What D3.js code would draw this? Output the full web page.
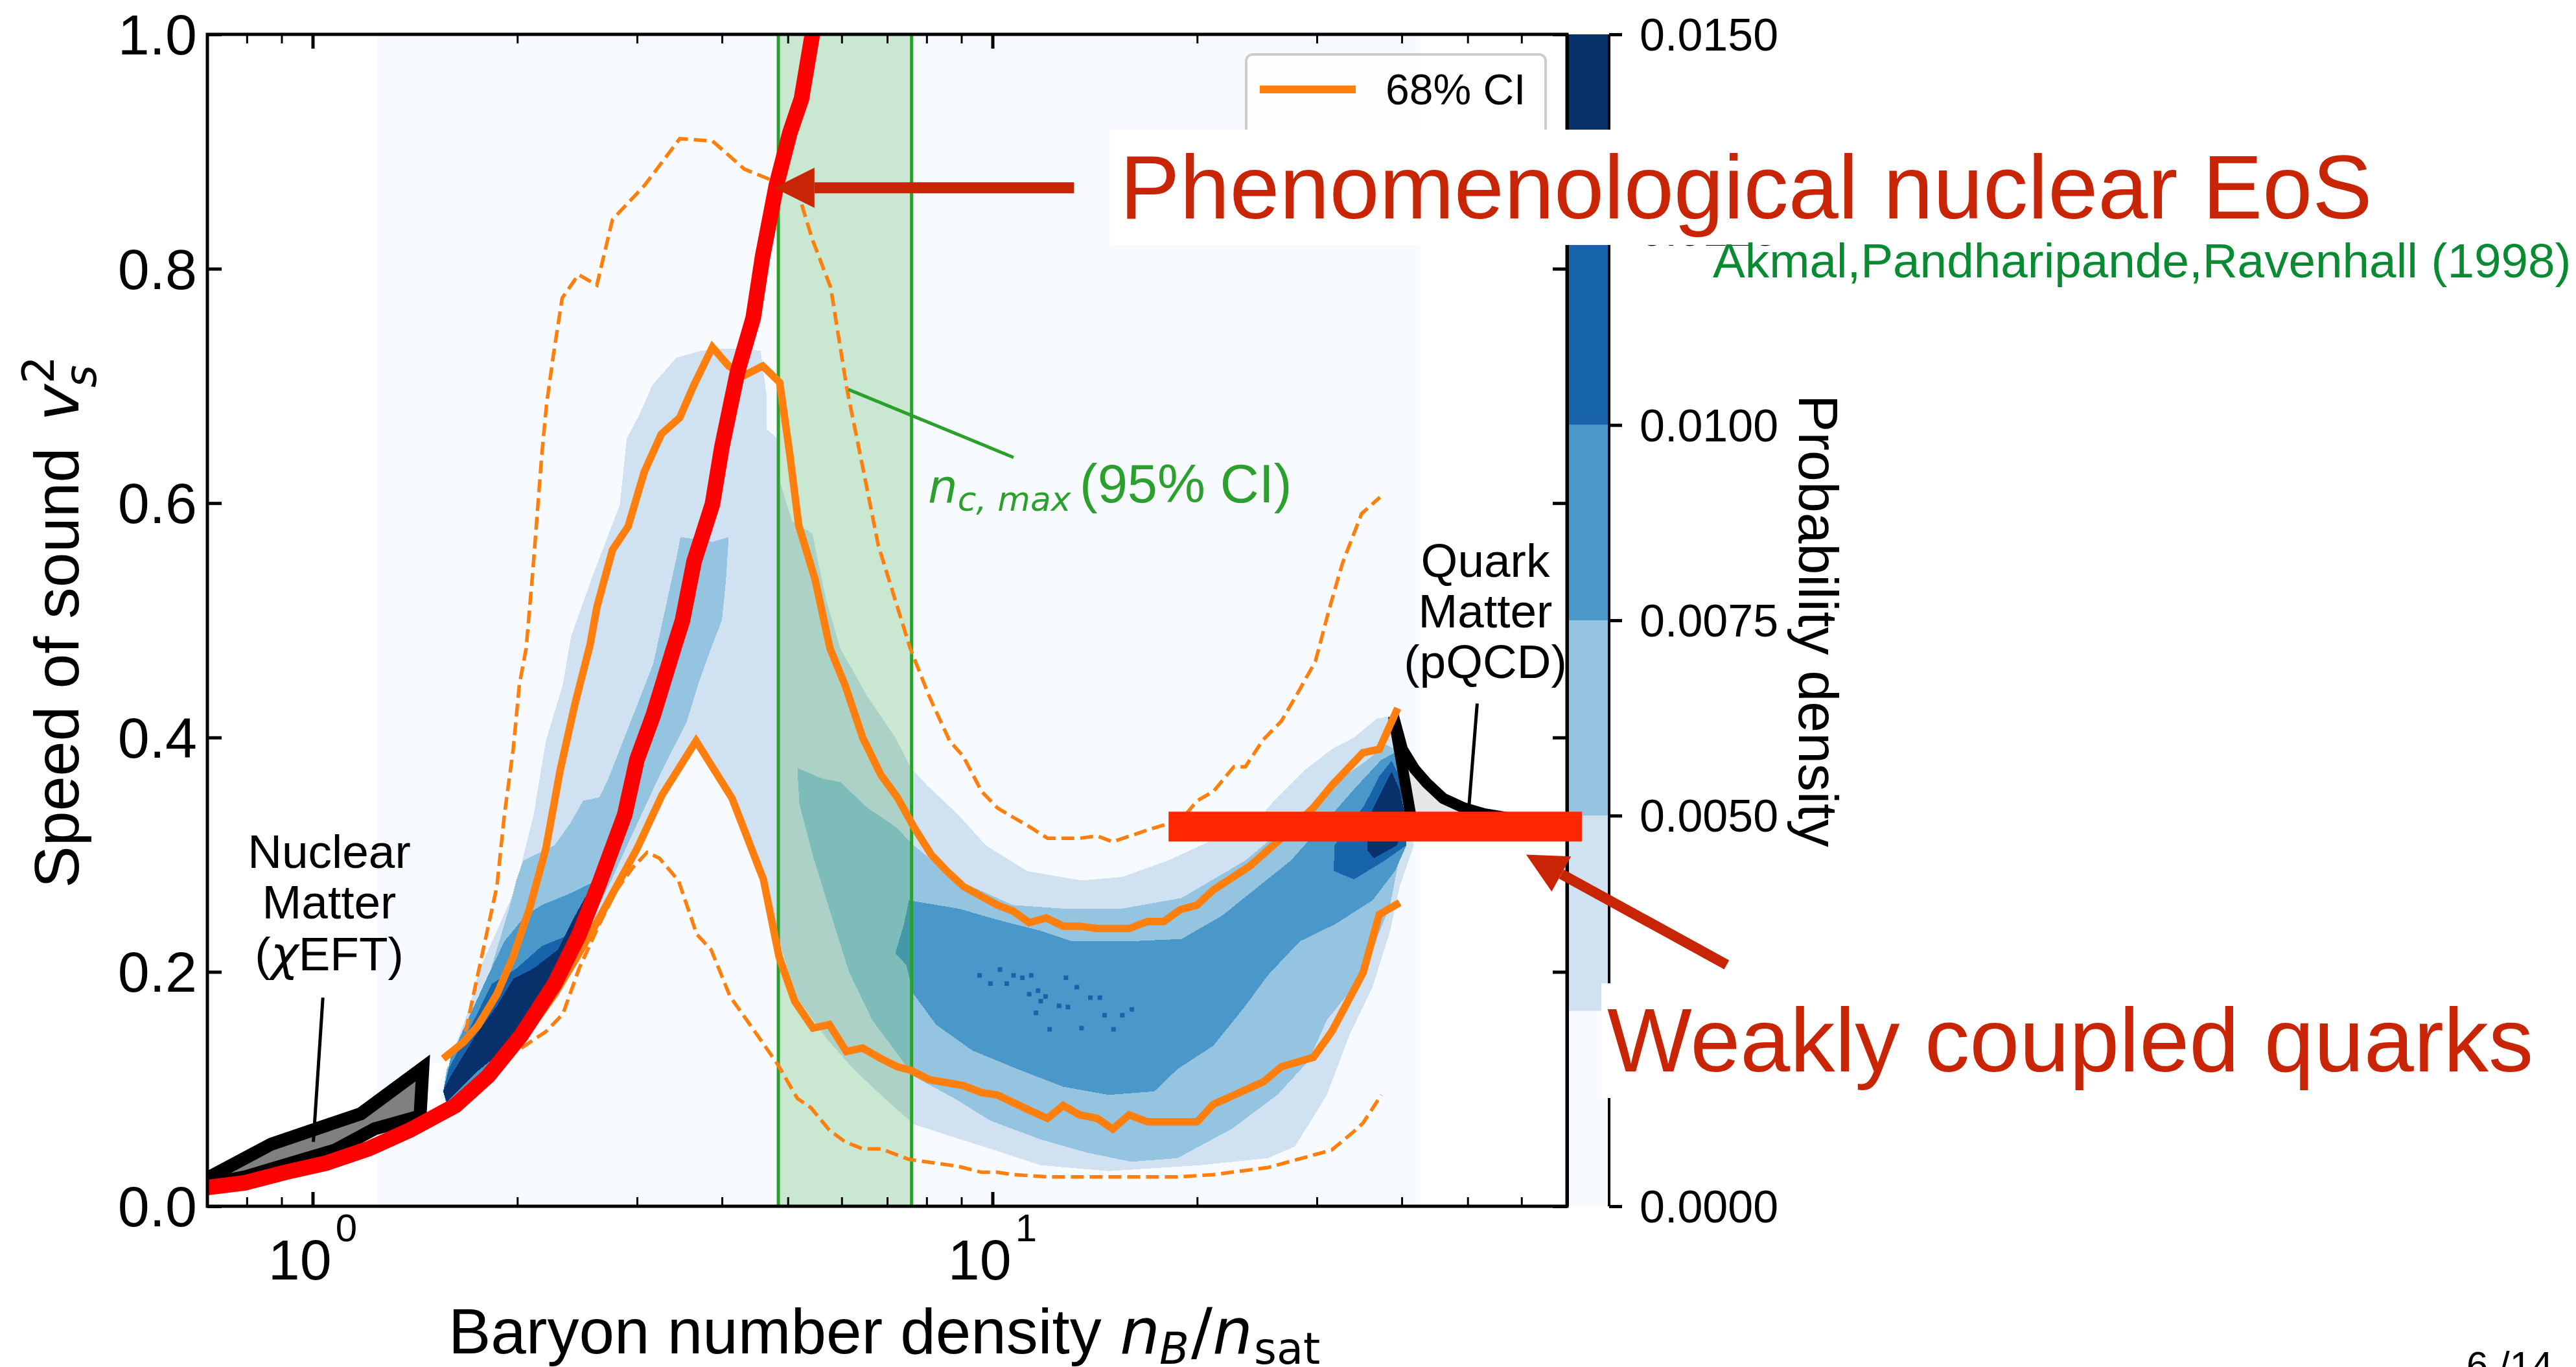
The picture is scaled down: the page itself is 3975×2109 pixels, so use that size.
<!DOCTYPE html>
<html><head><meta charset="utf-8">
<script src="https://cdn.jsdelivr.net/npm/d3@7"></script>
<style>html,body{margin:0;padding:0;background:#fff;overflow:hidden}svg{display:block}text{font-family:"Liberation Sans",Arial,sans-serif}</style>
</head><body><svg id="c" width="3975" height="2109"></svg>
<script>
// all curves: [log10(nB/nsat), v_s^2]
const upper68=[[.192,.126],[.222,.140],[.243,.154],[.271,.181],[.295,.213],[.319,.254],[.343,.305],[.364,.372],[.386,.429],[.408,.479],[.418,.511],[.441,.560],[.464,.580],[.488,.627],[.513,.659],[.540,.673],[.561,.701],[.588,.733],[.612,.717],[.635,.709],[.662,.717],[.687,.703],[.702,.641],[.715,.581],[.739,.535],[.761,.476],[.783,.445],[.809,.400],[.836,.368],[.860,.349],[.884,.324],[.910,.300],[.933,.286],[.957,.273],[1.007,.257],[1.030,.252],[1.054,.242],[1.079,.246],[1.104,.239],[1.128,.239],[1.154,.237],[1.201,.237],[1.228,.243],[1.252,.243],[1.276,.253],[1.301,.257],[1.325,.270],[1.378,.290],[1.425,.314],[1.472,.340],[1.499,.359],[1.545,.387],[1.569,.390],[1.596,.425]];
const lower68=[[.203,.087],[.264,.111],[.313,.146],[.356,.181],[.386,.210],[.417,.241],[.447,.273],[.477,.305],[.514,.351],[.564,.397],[.617,.348],[.663,.279],[.686,.213],[.709,.175],[.736,.152],[.760,.155],[.785,.132],[.809,.135],[.836,.126],[.860,.119],[.880,.116],[.907,.108],[.957,.103],[.984,.097],[1.007,.095],[1.054,.082],[1.081,.075],[1.104,.086],[1.128,.078],[1.154,.075],[1.177,.066],[1.201,.078],[1.228,.072],[1.301,.072],[1.325,.087],[1.398,.106],[1.425,.119],[1.472,.127],[1.499,.149],[1.545,.199],[1.569,.249],[1.599,.259]];
const upper95=[[.225,.149],[.240,.190],[.271,.273],[.282,.334],[.295,.390],[.304,.445],[.314,.476],[.324,.543],[.337,.641],[.344,.684],[.354,.726],[.367,.775],[.391,.795],[.418,.786],[.441,.842],[.488,.871],[.540,.911],[.588,.909],[.635,.885],[.682,.874],[.715,.863],[.735,.825],[.762,.784],[.786,.697],[.809,.631],[.832,.564],[.879,.476],[.907,.435],[.937,.397],[.957,.384],[.984,.354],[1.007,.340],[1.030,.332],[1.054,.324],[1.081,.314],[1.128,.314],[1.154,.316],[1.177,.311],[1.228,.321],[1.278,.330],[1.301,.346],[1.325,.354],[1.355,.375],[1.372,.375],[1.398,.398],[1.425,.414],[1.452,.441],[1.475,.465],[1.496,.511],[1.515,.549],[1.543,.591],[1.570,.605]];
const lower95=[[.307,.135],[.343,.149],[.368,.164],[.392,.203],[.422,.241],[.447,.270],[.471,.289],[.492,.302],[.510,.297],[.538,.278],[.565,.232],[.586,.219],[.614,.179],[.665,.137],[.684,.121],[.713,.092],[.733,.084],[.760,.065],[.783,.055],[.809,.049],[.836,.049],[.877,.040],[.950,.034],[.984,.029],[1.007,.029],[1.030,.027],[1.084,.025],[1.272,.025],[1.325,.027],[1.405,.033],[1.499,.048],[1.532,.064],[1.545,.071],[1.572,.095]];
const eosAPR=[[-.155,.016],[-.100,.020],[-.040,.029],[.021,.037],[.082,.049],[.143,.065],[.210,.086],[.258,.111],[.307,.146],[.356,.190],[.392,.232],[.422,.276],[.459,.334],[.477,.381],[.501,.419],[.531,.476],[.544,.500],[.561,.550],[.588,.599],[.602,.648],[.625,.712],[.648,.758],[.662,.811],[.682,.871],[.702,.916],[.719,.945],[.735,1.0],[.739,1.018]];
const nuclearMatter=[[-.155,.024],[-.061,.053],[.071,.079],[.162,.118],[.158,.077],[.091,.066],[.033,.048],[-.100,.025],[-.155,.019]];
const quarkMatter=[[1.590,.418],[1.603,.390],[1.621,.373],[1.639,.361],[1.663,.348],[1.693,.340],[1.723,.335],[1.765,.331],[1.619,.321]];
const gapPatch=[[.177,.122],[.197,.124],[.183,.100],[.192,.087],[.162,.076]];
const weakQuarks=[[1.259,.324],[1.867,.324]];
const nCmaxLogN=[.685,.881];
const histLogN=[.095,1.629];
const band1=[[[.203,.127],[.228,.165],[.246,.203],[.271,.235],[.295,.267],[.307,.292],[.325,.334],[.343,.397],[.368,.445],[.380,.486],[.410,.535],[.452,.599],[.462,.655],[.481,.676],[.500,.701],[.535,.724],[.571,.730],[.602,.732],[.628,.732],[.659,.730],[.668,.691],[.668,.663],[.684,.655],[.688,.617],[.705,.585],[.735,.574],[.755,.518],[.776,.476],[.816,.435],[.857,.400],[.880,.374],[.904,.359],[.950,.334],[.990,.308],[1.051,.286],[1.131,.278],[1.191,.281],[1.258,.295],[1.318,.311],[1.385,.327],[1.419,.349],[1.459,.372],[1.499,.390],[1.532,.400],[1.565,.416],[1.592,.419],[1.599,.356],[1.620,.308],[1.599,.273],[1.585,.235],[1.559,.187],[1.525,.146],[1.492,.095],[1.445,.051],[1.405,.041],[1.305,.035],[1.171,.030],[1.071,.035],[.997,.049],[.937,.060],[.884,.070],[.836,.095],[.796,.117],[.756,.143],[.709,.181],[.686,.228],[.663,.286],[.617,.343],[.564,.397],[.514,.356],[.477,.311],[.440,.267],[.398,.222],[.356,.181],[.313,.149],[.264,.111],[.197,.087],[.192,.098]]];
const band2=[[[.197,.117],[.240,.155],[.264,.206],[.289,.254],[.300,.279],[.310,.295],[.356,.308],[.379,.327],[.398,.346],[.422,.349],[.435,.365],[.489,.445],[.501,.463],[.535,.553],[.541,.571],[.588,.567],[.612,.571],[.608,.535],[.602,.500],[.586,.476],[.568,.447],[.550,.413],[.514,.372],[.465,.311],[.440,.279],[.386,.216],[.337,.175],[.295,.149],[.240,.111],[.197,.087],[.192,.098]],
[[.713,.374],[.749,.365],[.776,.362],[.816,.340],[.857,.324],[.884,.308],[.924,.289],[.957,.276],[1.030,.257],[1.104,.254],[1.191,.254],[1.278,.263],[1.325,.279],[1.372,.295],[1.432,.324],[1.472,.343],[1.505,.362],[1.552,.381],[1.579,.394],[1.592,.390],[1.605,.317],[1.599,.299],[1.585,.257],[1.565,.228],[1.545,.197],[1.492,.159],[1.465,.124],[1.419,.095],[1.352,.066],[1.272,.041],[1.204,.038],[1.137,.046],[1.071,.057],[.997,.073],[.944,.092],[.884,.111],[.864,.127],[.823,.159],[.789,.200],[.763,.248],[.736,.299],[.716,.343]]];
const band3=[[[.192,.098],[.203,.127],[.228,.159],[.258,.197],[.282,.226],[.313,.248],[.337,.257],[.379,.267],[.410,.276],[.422,.279],[.386,.222],[.325,.165],[.264,.117],[.197,.087]],
[[.877,.261],[.950,.254],[1.010,.244],[1.071,.235],[1.117,.226],[1.197,.226],[1.278,.228],[1.338,.248],[1.385,.270],[1.439,.295],[1.499,.334],[1.532,.356],[1.572,.381],[1.592,.387],[1.609,.343],[1.609,.308],[1.592,.286],[1.559,.261],[1.505,.241],[1.452,.226],[1.405,.197],[1.372,.171],[1.325,.137],[1.272,.117],[1.238,.098],[1.171,.095],[1.104,.102],[1.037,.117],[.970,.133],[.917,.155],[.884,.181],[.873,.206],[.857,.216],[.870,.241]]];
const band4=[[[.197,.089],[.192,.098],[.200,.117],[.240,.162],[.264,.190],[.300,.203],[.337,.222],[.379,.232],[.404,.254],[.386,.222],[.356,.189],[.295,.143],[.240,.114]],
[[1.503,.308],[1.502,.286],[1.532,.279],[1.577,.295],[1.609,.308],[1.599,.367],[1.587,.380],[1.569,.367],[1.547,.342]]];
const band5=[[[.197,.089],[.192,.098],[.203,.111],[.240,.146],[.271,.171],[.295,.194],[.325,.203],[.361,.219],[.386,.248],[.410,.273],[.410,.261],[.356,.190],[.295,.140],[.240,.114]],
[[1.551,.304],[1.561,.297],[1.595,.308],[1.609,.329],[1.599,.355],[1.587,.371],[1.569,.350],[1.555,.334]]];
const band4Speckles=[[.981,.197],[.997,.190],[1.011,.202],[1.021,.190],[1.031,.197],[1.044,.195],[1.057,.197],[1.067,.184],[1.078,.179],[1.071,.175],[1.098,.171],[1.111,.170],[1.124,.187],[1.144,.178],[1.158,.178],[1.064,.165],[1.084,.151],[1.131,.152],[1.165,.163],[1.178,.151],[1.191,.163],[1.205,.168],[1.108,.195],[1.054,.181]];
const chiLeader=[[.015,.178],[.001,.055]];
const pqcdLeader=[[1.713,.429],[1.701,.342]];
const nCmaxLeader=[[.788,.697],[1.031,.639]];
const arrowEoS=[[1.120,.869],[.679,.869]];
const arrowQuarks=[[2.080,.206],[1.785,.300]];
const xMajor=[1,10];
const xMinor=[.7,.8,.9,2,3,4,5,6,7,8,9,20,30,40,50,60,70];
const yTicks=[0,.2,.4,.6,.8,1];
const cbarEdges=[0,.0025,.005,.0075,.01,.0125,.015];
const cbarColors=["#f7fbff","#d0e1f2","#94c4df","#4a98c9","#1764ab","#08306b"];
const nuclearLabel=["Nuclear","Matter"];
const quarkLabel=["Quark","Matter","(pQCD)"];

const L=320,R=2418,T=53,B=1861,CR=2483;
const svg=d3.select("#c");
const x=d3.scaleLog().domain([.7,70]).range([L,R]);
const y=d3.scaleLinear().domain([0,1]).range([B,T]);
const c=d3.scaleLinear().domain([0,.015]).range([B,T]);
const X=l=>x(Math.pow(10,l));
const line=d3.line().x(d=>X(d[0])).y(d=>y(d[1]));
svg.append("defs").append("clipPath").attr("id","ax").append("rect").attr("x",L).attr("y",T).attr("width",R-L).attr("height",B-T);
const plot=svg.append("g").attr("clip-path","url(#ax)");

// heat map
plot.append("rect").attr("x",X(histLogN[0])).attr("width",X(histLogN[1])-X(histLogN[0])).attr("y",T).attr("height",B-T).attr("fill",cbarColors[0]);
[band1,band2,band3,band4,band5].forEach((b,i)=>{
  b.forEach(p=>plot.append("path").attr("d",line(p)+"Z").attr("fill",cbarColors[i+1]).attr("shape-rendering","crispEdges"));
});
plot.selectAll("rect.sp").data(band4Speckles).join("rect").attr("class","sp").attr("x",d=>X(d[0])-3.5).attr("y",d=>y(d[1])-3.5).attr("width",7).attr("height",7).attr("fill",cbarColors[4]);
// green span
plot.append("rect").attr("x",X(nCmaxLogN[0])).attr("width",X(nCmaxLogN[1])-X(nCmaxLogN[0])).attr("y",T).attr("height",B-T).attr("fill","#2ca02c").attr("fill-opacity",.22);
nCmaxLogN.forEach(l=>plot.append("line").attr("x1",X(l)).attr("x2",X(l)).attr("y1",T).attr("y2",B).attr("stroke","#2ca02c").attr("stroke-width",5));
plot.append("path").attr("d",line(gapPatch)+"Z").attr("fill","#fff");
// theory regions
plot.append("path").attr("d",line(nuclearMatter)+"Z").attr("fill","#808080").attr("stroke","#000").attr("stroke-width",20).attr("stroke-miterlimit",20);
plot.append("path").attr("d",line(quarkMatter)+"Z").attr("fill","#e6e6e6").attr("stroke","#000").attr("stroke-width",17).attr("stroke-miterlimit",4);
// CI lines
[[upper68,11.5,null],[lower68,11.5,null],[upper95,5.5,"20 9"],[lower95,5.5,"20 9"]].forEach(([d,w,dash])=>{
  plot.append("path").attr("d",line(d)).attr("fill","none").attr("stroke","#ff7f0e").attr("stroke-width",w).attr("stroke-dasharray",dash);
});
// leaders
[[chiLeader,"#000",5],[pqcdLeader,"#000",5],[nCmaxLeader,"#2ca02c",5]].forEach(([d,col,w])=>{
  plot.append("path").attr("d",line(d)).attr("stroke",col).attr("stroke-width",w).attr("fill","none");
});
// EoS
plot.append("path").attr("d",line(eosAPR)).attr("fill","none").attr("stroke","#ff0000").attr("stroke-width",24);

// axes
function style(g,w){g.select(".domain").remove();g.selectAll("line").attr("stroke","#000").attr("stroke-width",w);g.selectAll("text").remove();}
const ax=svg.append("g");
ax.append("g").attr("transform",`translate(0,${B})`).call(d3.axisBottom(x).tickValues(xMajor).tickSize(-22)).call(style,5);
ax.append("g").attr("transform",`translate(0,${B})`).call(d3.axisBottom(x).tickValues(xMinor).tickSize(-14)).call(style,3);
ax.append("g").attr("transform",`translate(0,${T})`).call(d3.axisTop(x).tickValues(xMajor).tickSize(-22)).call(style,5);
ax.append("g").attr("transform",`translate(0,${T})`).call(d3.axisTop(x).tickValues(xMinor).tickSize(-14)).call(style,3);
ax.append("g").attr("transform",`translate(${L},0)`).call(d3.axisLeft(y).tickValues(yTicks).tickSize(-22)).call(style,5);
ax.append("g").attr("transform",`translate(${R},0)`).call(d3.axisRight(y).tickValues(yTicks).tickSize(-22)).call(style,5);
ax.append("rect").attr("x",L).attr("y",T).attr("width",R-L).attr("height",B-T).attr("fill","none").attr("stroke","#000").attr("stroke-width",5);
// y tick labels
svg.selectAll("text.yl").data(yTicks).join("text").attr("class","yl").attr("x",L-16).attr("y",d=>y(d)+31).attr("text-anchor","end").attr("font-size",88).text(d=>d.toFixed(1));
// x tick labels
xMajor.forEach((v,i)=>{
  const t=svg.append("text").attr("x",x(v)).attr("y",1974).attr("text-anchor","middle").attr("font-size",88);
  t.append("tspan").text("10");
  t.append("tspan").attr("font-size",60).attr("dx",6).attr("dy",-59).text(String(i));
});
// x label
{
 const t=svg.append("text").attr("x",692).attr("y",2088).attr("font-size",98);
 t.append("tspan").text("Baryon number density");
 const m=`font-family:'DejaVu Sans';`;
 t.append("tspan").attr("x",1728).attr("y",2088).attr("style",m+"font-style:italic").text("n");
 t.append("tspan").attr("x",1789).attr("y",2104).attr("style",m+"font-style:italic").attr("font-size",67).text("B");
 t.append("tspan").attr("x",1838).attr("y",2088).attr("style",m).text("/");
 t.append("tspan").attr("x",1871).attr("y",2088).attr("style",m+"font-style:italic").text("n");
 t.append("tspan").attr("x",1935).attr("y",2104).attr("style",m).attr("font-size",67).text("sat");
}
// y label
{
 const t=svg.append("text").attr("transform","translate(121,1370) rotate(-90)").attr("font-size",97);
 t.append("tspan").text("Speed of sound");
 const m=`font-family:'DejaVu Sans';`;
 t.append("tspan").attr("x",720).attr("y",0).attr("style",m+"font-style:italic").text("v");
 t.append("tspan").attr("x",772).attr("y",27).attr("style",m+"font-style:italic").attr("font-size",67).text("s");
 t.append("tspan").attr("x",778).attr("y",-38).attr("style",m).attr("font-size",67).text("2");
}
// colorbar
const cb=svg.append("g");
cbarColors.forEach((col,i)=>cb.append("rect").attr("x",R).attr("width",CR-R).attr("y",c(cbarEdges[i+1])).attr("height",c(cbarEdges[i])-c(cbarEdges[i+1])).attr("fill",col));
[R+1,CR].forEach(px=>cb.append("line").attr("x1",px).attr("x2",px).attr("y1",T).attr("y2",B).attr("stroke","#000").attr("stroke-width",4));
cb.append("g").attr("transform",`translate(${CR},0)`).call(d3.axisRight(c).tickValues(cbarEdges).tickSize(20)).call(style,5);
cb.selectAll("text.cl").data(cbarEdges).join("text").attr("class","cl").attr("x",2530).attr("y",d=>c(d)+25).attr("font-size",70).text(d=>d.toFixed(4));
svg.append("text").attr("transform","translate(2776,958) rotate(90)").attr("text-anchor","middle").attr("font-size",86).text("Probability density");
// legend
svg.append("rect").attr("x",1923).attr("y",84).attr("width",462).attr("height",130).attr("rx",10).attr("fill","#fff").attr("fill-opacity",.8).attr("stroke","#ccc").attr("stroke-width",4);
svg.append("line").attr("x1",1944).attr("x2",2092).attr("y1",138).attr("y2",138).attr("stroke","#ff7f0e").attr("stroke-width",12);
svg.append("text").attr("x",2138).attr("y",161).attr("font-size",66).text("68% CI");
// in-plot labels
function multi(lines,cx,ys,size){lines.forEach((s,i)=>svg.append("text").attr("x",cx).attr("y",ys[i]).attr("text-anchor","middle").attr("font-size",size).text(s));}
multi(nuclearLabel,508,[1339,1417],73);
{
 const t=svg.append("text").attr("x",508).attr("y",1497).attr("text-anchor","middle").attr("font-size",73);
 t.append("tspan").text("(");
 t.append("tspan").attr("style","font-family:'DejaVu Sans';font-style:italic").text("χ");
 t.append("tspan").text("EFT)");
}
multi(quarkLabel,2292,[890,968,1046],73);
{
 const t=svg.append("text").attr("x",1432).attr("y",775).attr("font-size",83).attr("fill","#2ca02c");
 const m="font-family:'DejaVu Sans';font-style:italic";
 t.append("tspan").attr("style",m).attr("font-size",72).text("n");
 t.append("tspan").attr("style",m).attr("font-size",52).attr("dy",13).text("c, max");
 t.append("tspan").attr("dy",-13).attr("x",1666).text("(95% CI)");
}
// slide overlay
function arrow(d,shaft){
  const [a,b]=d.map(p=>[X(p[0]),y(p[1])]);
  const dx=b[0]-a[0],dy=b[1]-a[1],len=Math.hypot(dx,dy),ux=dx/len,uy=dy/len,hl=62,hw=31;
  const nx=b[0]-ux*hl,ny=b[1]-uy*hl;
  svg.append("line").attr("x1",a[0]).attr("y1",a[1]).attr("x2",nx).attr("y2",ny).attr("stroke","#c82506").attr("stroke-width",shaft);
  svg.append("polygon").attr("points",[[b[0],b[1]],[nx-uy*hw,ny+ux*hw],[nx+uy*hw,ny-ux*hw]].join(" ")).attr("fill","#c82506");
}
svg.append("path").attr("d",line(weakQuarks)).attr("stroke","#ff2600").attr("stroke-width",46).attr("fill","none");
arrow(arrowQuarks,16);
arrow(arrowEoS,17);
svg.append("rect").attr("x",1713).attr("y",200).attr("width",1967).attr("height",178).attr("fill","#fff");
svg.append("rect").attr("x",2471).attr("y",1517).attr("width",1450).attr("height",177).attr("fill","#fff");
svg.append("text").attr("x",1728).attr("y",337).attr("font-size",138.5).attr("fill","#c82506").text("Phenomenological nuclear EoS");
svg.append("text").attr("x",2480).attr("y",1653).attr("font-size",138.5).attr("fill","#c82506").text("Weakly coupled quarks");
svg.append("text").attr("x",2643).attr("y",428).attr("font-size",74.7).attr("fill","#0a8a32").text("Akmal,Pandharipande,Ravenhall (1998)");
svg.append("text").attr("x",3806).attr("y",2127).attr("font-size",60).text("6  /14");
</script></body></html>
